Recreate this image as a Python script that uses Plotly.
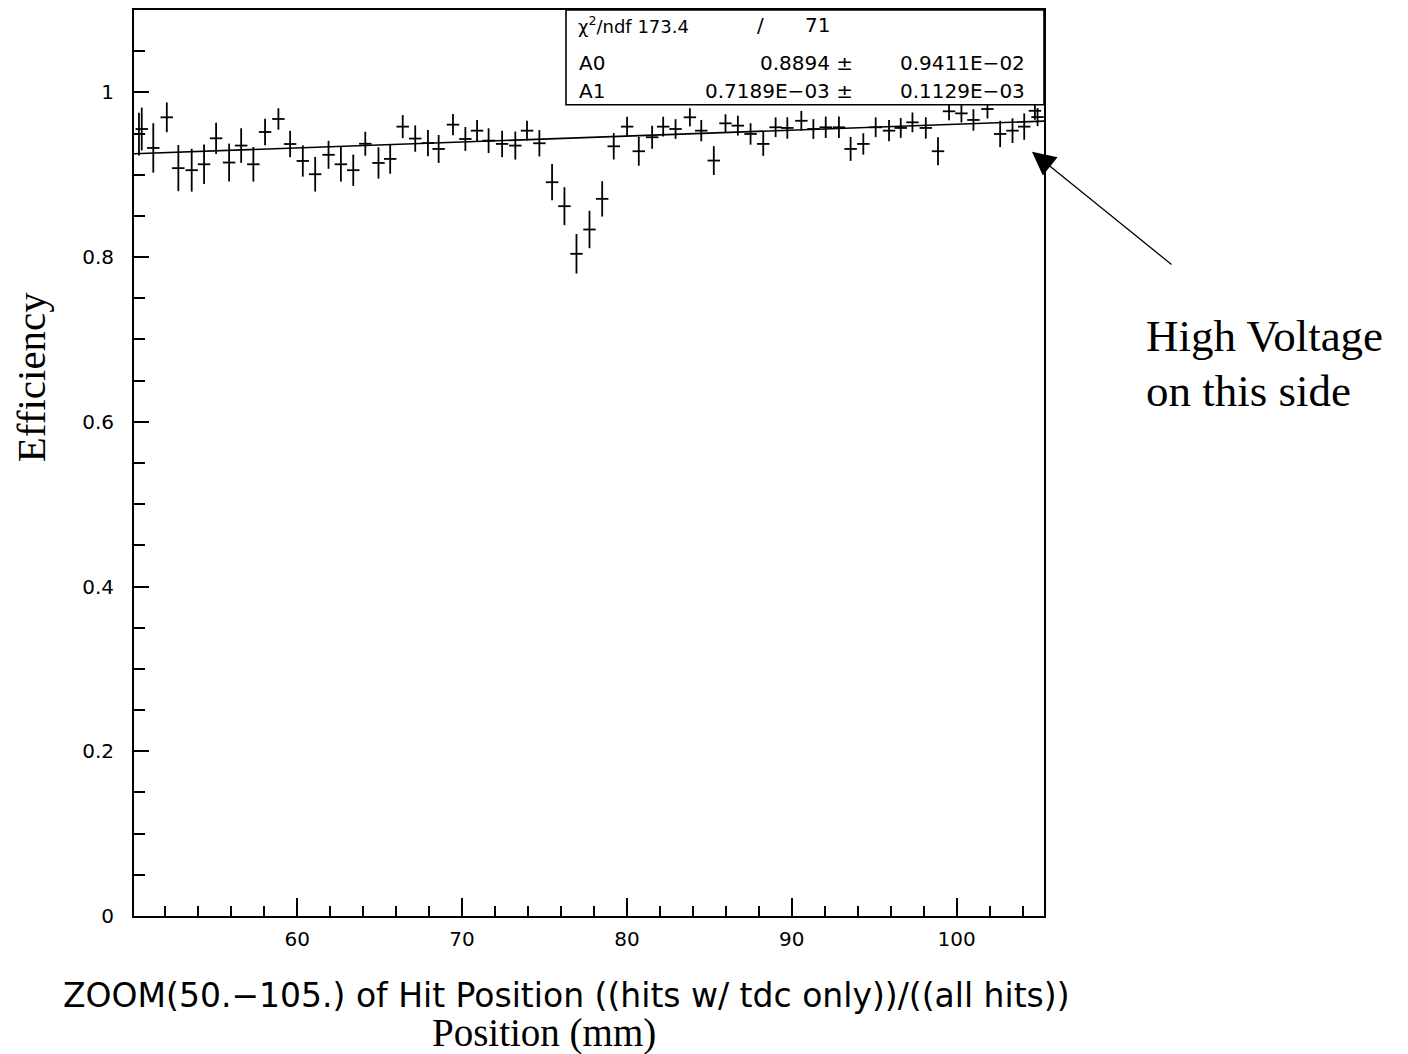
import plotly.graph_objects as go

# ---- data ----
pos_mm = [50.40, 50.57, 51.27, 52.09, 52.79, 53.60, 54.35, 55.08, 55.87, 56.60,
          57.34, 58.05, 58.86, 59.57, 60.34, 61.09, 61.90, 62.65, 63.40, 64.13,
          64.93, 65.64, 66.40, 67.16, 67.93, 68.58, 69.45, 70.20, 70.91, 71.61,
          72.43, 73.23, 73.94, 74.69, 75.46, 76.21, 76.94, 77.73, 78.50, 79.20,
          80.01, 80.72, 81.53, 82.20, 82.95, 83.82, 84.51, 85.27, 85.98, 86.73,
          87.50, 88.27, 89.02, 89.73, 90.58, 91.31, 92.06, 92.86, 93.57, 94.34,
          95.09, 95.90, 96.61, 97.32, 98.13, 98.87, 99.54, 100.29, 101.02, 101.87,
          102.64, 103.39, 104.10, 104.91, 104.75]
efficiency = [0.9494, 0.9555, 0.9325, 0.9697, 0.9080, 0.9055, 0.9127, 0.9442, 0.9148, 0.9354,
              0.9127, 0.9519, 0.9677, 0.9373, 0.9167, 0.9006, 0.9242, 0.9127, 0.9055, 0.9376,
              0.9143, 0.9192, 0.9584, 0.9439, 0.9384, 0.9313, 0.9608, 0.9434, 0.9535, 0.9414,
              0.9374, 0.9354, 0.9535, 0.9382, 0.8909, 0.8618, 0.8040, 0.8335, 0.8707, 0.9345,
              0.9584, 0.9285, 0.9455, 0.9584, 0.9555, 0.9697, 0.9535, 0.9172, 0.9624, 0.9596,
              0.9495, 0.9374, 0.9576, 0.9568, 0.9655, 0.9555, 0.9576, 0.9576, 0.9313, 0.9374,
              0.9576, 0.9535, 0.9568, 0.9636, 0.9568, 0.9285, 0.9770, 0.9745, 0.9665, 0.9798,
              0.9495, 0.9535, 0.9584, 0.9700, 0.9776]
eff_err = [0.026, 0.026, 0.030, 0.018, 0.028, 0.026, 0.024, 0.019, 0.023, 0.021,
           0.021, 0.016, 0.013, 0.016, 0.019, 0.021, 0.017, 0.021, 0.019, 0.0145,
           0.019, 0.018, 0.014, 0.016, 0.016, 0.017, 0.013, 0.0145, 0.013, 0.015,
           0.016, 0.017, 0.012, 0.016, 0.022, 0.023, 0.024, 0.0227, 0.0215, 0.016,
           0.012, 0.0175, 0.014, 0.012, 0.012, 0.011, 0.013, 0.0175, 0.011, 0.012,
           0.013, 0.0145, 0.012, 0.013, 0.012, 0.012, 0.013, 0.013, 0.0145, 0.013,
           0.012, 0.013, 0.012, 0.012, 0.013, 0.017, 0.011, 0.011, 0.013, 0.0115,
           0.016, 0.015, 0.016, 0.011, 0.011]
half_bin = 0.378

# fit parameters (from the stats box)
A0 = 0.8894
A1 = 0.7189e-03
fit_x = [50.1, 105.3]
fit_y = [A0 + A1 * v for v in fit_x]

x_range = [50.1, 105.3]
y_range = [0, 1.1]

# ---- layout geometry (page pixels; the page body has an 8px offset) ----
OFF = 8
W, H = 1400, 1046
L, R, T, B = 134, 1044, 8, 916   # plot frame in page pixels


def px(xp):
    return (xp - L) / (R - L)


def py(yp):
    return (B - yp) / (B - T)


fig = go.Figure()

fig.add_trace(go.Scatter(
    x=fit_x, y=fit_y, mode="lines",
    line=dict(color="black", width=1.6), hoverinfo="skip", showlegend=False))

fig.add_trace(go.Scatter(
    x=pos_mm, y=efficiency, mode="markers",
    marker=dict(size=0, opacity=0, color="black"),
    error_y=dict(type="data", array=eff_err, symmetric=True, width=0,
                 thickness=1.8, color="black"),
    error_x=dict(type="constant", value=half_bin, width=0,
                 thickness=1.8, color="black"),
    showlegend=False))

tickfont = dict(family="DejaVu Sans", size=20, color="black")

fig.update_xaxes(
    range=x_range, tickmode="linear", tick0=0, dtick=10,
    ticks="inside", ticklen=18, tickwidth=1.5, tickcolor="black",
    minor=dict(ticks="inside", tick0=0, dtick=2, ticklen=10, tickwidth=1.5, tickcolor="black"),
    showline=True, mirror=True, linecolor="black", linewidth=2,
    showgrid=False, zeroline=False, tickfont=tickfont, ticklabelstandoff=4)

fig.update_yaxes(
    range=y_range, tickmode="linear", tick0=0, dtick=0.2,
    ticks="inside", ticklen=15, tickwidth=1.5, tickcolor="black",
    minor=dict(ticks="inside", tick0=0, dtick=0.05, ticklen=11, tickwidth=1.5, tickcolor="black"),
    showline=True, mirror=True, linecolor="black", linewidth=2,
    showgrid=False, zeroline=False, tickfont=tickfont, ticklabelstandoff=14)

# stats box
fig.add_shape(type="rect", xref="paper", yref="paper",
              x0=px(566), x1=1.0, y0=py(103), y1=1.0,
              line=dict(color="black", width=1.6), fillcolor="white", layer="above")

boxfont = dict(family="DejaVu Sans", size=20, color="black")
ann = []


def txt(text, x, y, xanchor="left", font=boxfont, **kw):
    ann.append(dict(text=text, x=px(x), y=py(y), xref="paper", yref="paper",
                    xanchor=xanchor, yanchor="middle", showarrow=False, font=font, **kw))


txt("χ<sup>2</sup>/ndf 173.4", 576, 23, font=dict(family="DejaVu Sans", size=18, color="black"))
txt("/", 760, 23, xanchor="center")
txt("71", 832, 23, xanchor="right")
txt("A0", 577, 61)
txt("0.8894 ±", 855, 61, xanchor="right")
txt("0.9411E−02", 1027, 61, xanchor="right")
txt("A1", 577, 89)
txt("0.7189E−03 ±", 855, 89, xanchor="right")
txt("0.1129E−03", 1027, 89, xanchor="right")

# axis / title texts
txt("ZOOM(50.−105.) of Hit Position ((hits w/ tdc only))/((all hits))", 566, 996,
    xanchor="center", font=dict(family="DejaVu Sans", size=33, color="black"))
txt("Position (mm)", 544, 1033, xanchor="center",
    font=dict(family="Liberation Serif", size=39, color="black"))
txt("Efficiency", 31, 376, xanchor="center",
    font=dict(family="Liberation Serif", size=41, color="black"), textangle=-90)
serif_big = dict(family="Liberation Serif", size=45, color="black")
txt("High Voltage", 1144, 335, xanchor="left", font=serif_big)
txt("on this side", 1144, 390, xanchor="left", font=serif_big)

# arrow
ann.append(dict(text="", x=px(1032), y=py(150), xref="paper", yref="paper",
                ax=141, ay=114, axref="pixel", ayref="pixel",
                showarrow=True, arrowhead=2, arrowsize=3.6, arrowwidth=1.3,
                arrowcolor="black"))

fig.update_layout(
    width=W, height=H,
    margin=dict(l=L - OFF, r=(W + OFF) - R, t=T - OFF, b=(H + OFF) - B),
    paper_bgcolor="white", plot_bgcolor="white", annotations=ann, showlegend=False)

fig.write_html("out.html")
